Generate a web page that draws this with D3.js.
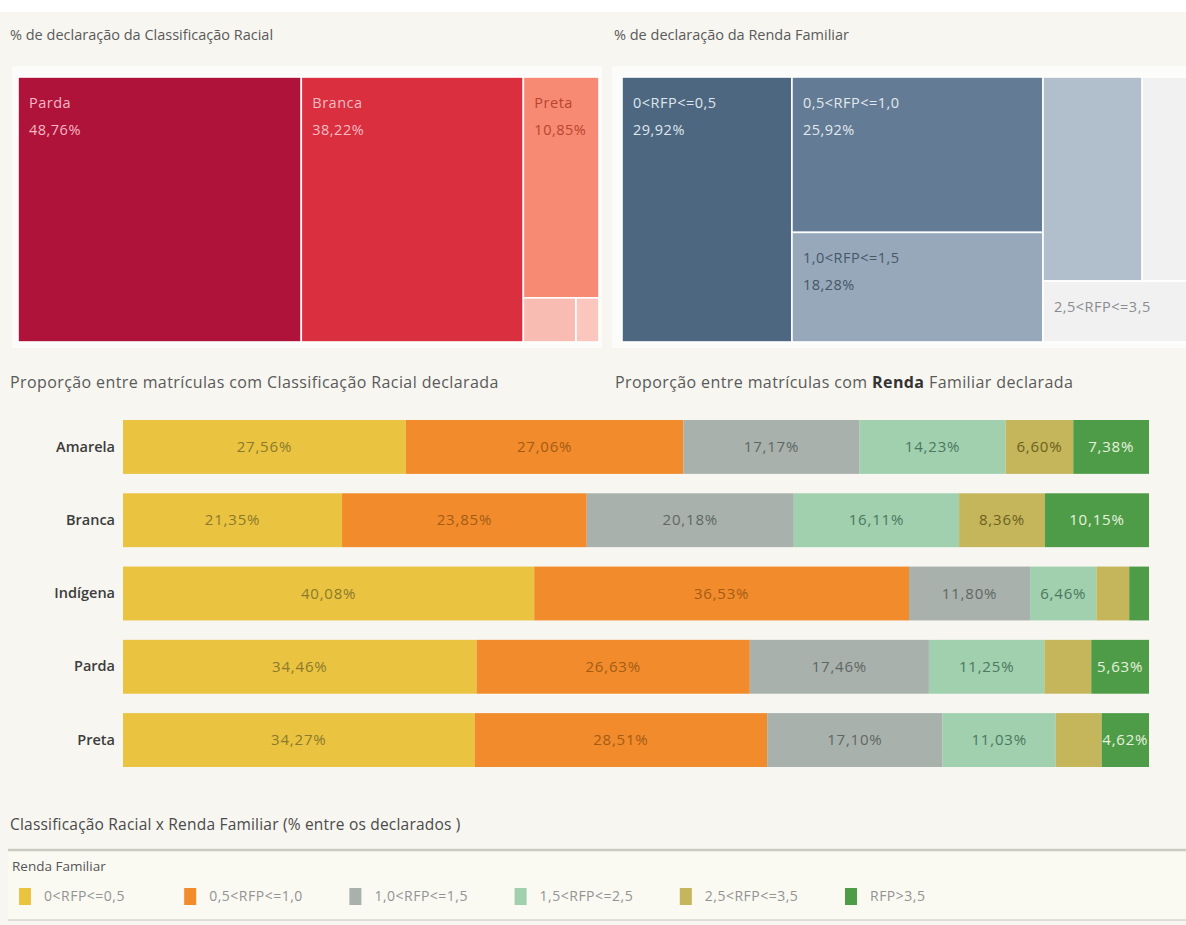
<!DOCTYPE html>
<html lang="pt-BR">
<head>
<meta charset="utf-8">
<title>Classificação Racial x Renda Familiar</title>
<script src="https://cdn.jsdelivr.net/npm/d3@7"></script>
<style>
  html, body { margin: 0; padding: 0; background: #f7f6f1; }
  svg { display: block; font-family: "Open Sans", "Noto Sans", sans-serif; }
</style>
</head>
<body>
<svg id="dash" width="1186" height="925"></svg>
<script>
// ---- Data ----------------------------------------------------------------
// Share of enrolments by declared racial classification (%)
const raceNames  = ["Parda", "Branca", "Preta", "Amarela", "Indígena"];
const raceShares = [48.76, 38.22, 10.85, 1.51, 0.66];
// nesting of the racial treemap cells (indices into raceNames)
const raceTiling = [0, 1, [2, [3, 4]]];

// Share of enrolments by declared family income per capita band (%)
const incomeBands  = ["0<RFP<=0,5", "0,5<RFP<=1,0", "1,0<RFP<=1,5", "1,5<RFP<=2,5", "2,5<RFP<=3,5", "RFP>3,5"];
const incomeShares = [29.92, 25.92, 18.28, 13.45, 5.95, 6.48];
// nesting of the income treemap cells (indices into incomeBands)
const incomeTiling = [0, [1, 2], [[3, 5], 4]];

// Income distribution within each racial group (% among declared)
const barRaces = ["Amarela", "Branca", "Indígena", "Parda", "Preta"];
const band0 = [27.56, 21.35, 40.08, 34.46, 34.27]; // 0<RFP<=0,5
const band1 = [27.06, 23.85, 36.53, 26.63, 28.51]; // 0,5<RFP<=1,0
const band2 = [17.17, 20.18, 11.80, 17.46, 17.10]; // 1,0<RFP<=1,5
const band3 = [14.23, 16.11, 6.46, 11.25, 11.03];  // 1,5<RFP<=2,5
const band4 = [6.60, 8.36, 3.20, 4.57, 4.47];      // 2,5<RFP<=3,5
const band5 = [7.38, 10.15, 1.93, 5.63, 4.62];     // RFP>3,5
const bandSeries = [band0, band1, band2, band3, band4, band5];

// ---- Styles --------------------------------------------------------------
const raceFill  = ["#b01339", "#d92f3f", "#f78a72", "#f9bcb3", "#fbc6be"];
const raceText  = ["#f6b7c3", "#f7bcc3", "#b9452f", "#b9452f", "#b9452f"];
const incomeFill = ["#4e6780", "#637b94", "#96a8ba", "#b1bfcc", "#f1f1f1", "#f1f1f1"];
const incomeText = ["#dfe6ee", "#e3e9ef", "#465768", "#465768", "#8a8d90", "#8a8d90"];
const bandFill = ["#eac341", "#f28b2b", "#a9b1ad", "#a0d0ae", "#c5b55b", "#4f9c48"];
const bandText = ["#8a7a2c", "#a35c16", "#5d6864", "#4c7760", "#6b6220", "#e6f3df"];
const labelMin = 4.6; // segments below this share carry no label

const fmt = v => d3.format(".2f")(v).replace(".", ",") + "%";

const svg = d3.select("#dash");
svg.append("rect").attr("width", 1186).attr("height", 925).attr("fill", "#f7f6f1");
svg.append("rect").attr("width", 1186).attr("height", 12).attr("fill", "#ffffff");

// ---- Treemaps ------------------------------------------------------------
function nest(spec, names, values) {
  if (typeof spec === "number") return { name: names[spec], value: values[spec], idx: spec };
  return { children: spec.map(s => nest(s, names, values)) };
}
// alternate columns / rows at each nesting level
const tile = (node, x0, y0, x1, y1) =>
  (node.depth % 2 === 0 ? d3.treemapDice : d3.treemapSlice)(node, x0, y0, x1, y1);

function drawTreemap(opts) {
  const g = svg.append("g");
  g.append("rect").attr("x", opts.panel[0]).attr("y", opts.panel[1])
    .attr("width", opts.panel[2]).attr("height", opts.panel[3]).attr("fill", "#fcfcfa");
  g.append("text").attr("x", opts.titleX).attr("y", 40)
    .attr("font-size", 14.5).attr("fill", "#5a5a5a").text(opts.title);

  const root = d3.hierarchy(nest(opts.tiling, opts.names, opts.values))
    .sum(d => d.children ? 0 : d.value);
  d3.treemap().tile(tile).size([opts.x1 - opts.x0, opts.y1 - opts.y0]).round(false)(root);

  const cells = g.append("g").attr("transform", `translate(${opts.x0},${opts.y0})`)
    .selectAll("g").data(root.leaves()).join("g");
  cells.append("rect")
    .attr("x", d => d.x0).attr("y", d => d.y0)
    .attr("width", d => d.x1 - d.x0).attr("height", d => d.y1 - d.y0)
    .attr("fill", d => opts.fill[d.data.idx])
    .attr("stroke", "#ffffff").attr("stroke-width", 1.6);
  cells.filter(d => opts.labelled[d.data.idx] > 0).each(function (d) {
    const t = d3.select(this).append("text")
      .attr("font-size", 14.5).attr("letter-spacing", 0.5).attr("fill", opts.text[d.data.idx]);
    t.append("tspan").attr("x", d.x0 + 11).attr("y", d.y0 + 31).text(d.data.name);
    if (opts.labelled[d.data.idx] > 1)
      t.append("tspan").attr("x", d.x0 + 11).attr("y", d.y0 + 58).text(fmt(d.data.value));
  });
}

drawTreemap({
  title: "% de declaração da Classificação Racial", titleX: 10,
  panel: [12, 66, 590, 282],
  x0: 18, x1: 599, y0: 77, y1: 342,
  names: raceNames, values: raceShares, tiling: raceTiling,
  fill: raceFill, text: raceText, labelled: [2, 2, 2, 0, 0]
});
drawTreemap({
  title: "% de declaração da Renda Familiar", titleX: 614,
  panel: [612, 66, 580, 282],
  x0: 622, x1: 1190, y0: 77, y1: 342,
  names: incomeBands, values: incomeShares, tiling: incomeTiling,
  fill: incomeFill, text: incomeText, labelled: [2, 2, 2, 0, 1, 0]
});

// ---- Stacked bars --------------------------------------------------------
const subTitle = svg.append("g").attr("font-size", 16).attr("letter-spacing", 0.4).attr("fill", "#5a5a5a");
subTitle.append("text").attr("x", 10).attr("y", 388)
  .text("Proporção entre matrículas com Classificação Racial declarada");
const st2 = subTitle.append("text").attr("x", 615).attr("y", 388);
st2.append("tspan").text("Proporção entre matrículas com ");
st2.append("tspan").attr("font-weight", 700).attr("fill", "#333").text("Renda");
st2.append("tspan").text(" Familiar declarada");

const table = barRaces.map((r, i) => {
  const row = { race: r };
  bandSeries.forEach((s, k) => { row[k] = s[i]; });
  return row;
});
const stacked = d3.stack().keys(d3.range(bandSeries.length))(table);

const x = d3.scaleLinear().domain([0, 100]).range([123, 1149]);
const y = d3.scaleBand().domain(barRaces).range([410.3, 776.7])
  .paddingInner(0.265).paddingOuter(0.1325);

const yAxis = svg.append("g").attr("transform", `translate(${x(0)},0)`)
  .call(d3.axisLeft(y).tickSize(0).tickPadding(8));
yAxis.select(".domain").remove();
yAxis.selectAll("text").attr("font-size", 14.5).attr("font-weight", 600)
  .attr("fill", "#3c3c3c").attr("font-family", "\"Open Sans\", sans-serif");

const layers = svg.append("g").selectAll("g").data(stacked).join("g");
layers.selectAll("rect").data(d => d.map(p => ({ p, key: d.key }))).join("rect")
  .attr("x", d => x(d.p[0])).attr("y", d => y(d.p.data.race))
  .attr("width", d => x(d.p[1]) - x(d.p[0])).attr("height", y.bandwidth())
  .attr("fill", d => bandFill[d.key]);
layers.selectAll("text").data(d => d.map(p => ({ p, key: d.key }))
    .filter(d => d.p[1] - d.p[0] >= labelMin)).join("text")
  .attr("x", d => (x(d.p[0]) + x(d.p[1])) / 2)
  .attr("y", d => y(d.p.data.race) + y.bandwidth() / 2)
  .attr("dy", "0.35em").attr("text-anchor", "middle")
  .attr("font-size", 15).attr("letter-spacing", 0.8).attr("fill", d => bandText[d.key])
  .text(d => fmt(d.p[1] - d.p[0]));

// ---- Legend --------------------------------------------------------------
svg.append("text").attr("x", 10).attr("y", 830).attr("font-size", 15.5)
  .attr("letter-spacing", 0.2).attr("fill", "#4a4a4a")
  .text("Classificação Racial x Renda Familiar (% entre os declarados )");
const lg = svg.append("g");
lg.append("rect").attr("x", 8).attr("y", 849).attr("width", 1180).attr("height", 71)
  .attr("fill", "#fafaf3");
lg.append("line").attr("x1", 8).attr("x2", 1186).attr("y1", 850).attr("y2", 850)
  .attr("stroke", "#c9cac0").attr("stroke-width", 2.5);
lg.append("line").attr("x1", 8).attr("x2", 1186).attr("y1", 920).attr("y2", 920)
  .attr("stroke", "#d3d4cb").attr("stroke-width", 1.5);
lg.append("text").attr("x", 12).attr("y", 871).attr("font-size", 13.5).attr("fill", "#555")
  .text("Renda Familiar");
const lx = d3.scalePoint().domain(incomeBands).range([19, 845]);
const items = lg.selectAll("g.item").data(incomeBands).join("g").attr("class", "item")
  .attr("transform", d => `translate(${lx(d)},888)`);
items.append("rect").attr("width", 12).attr("height", 17)
  .attr("fill", (d, i) => bandFill[i]);
items.append("text").attr("x", 25).attr("y", 13).attr("font-size", 14)
  .attr("letter-spacing", 0.5).attr("fill", "#939393").text(d => d);
</script>
</body>
</html>
